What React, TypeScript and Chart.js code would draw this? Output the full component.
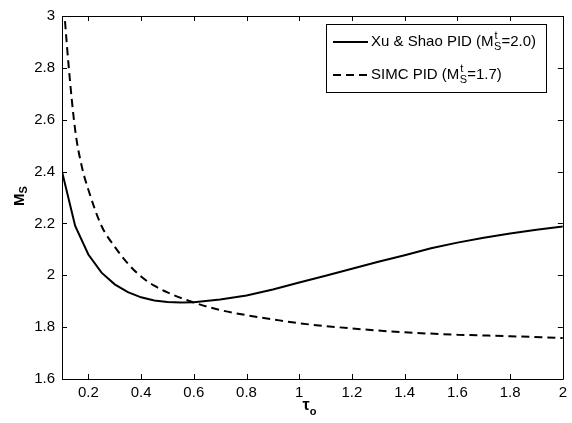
import React, { useEffect, useRef } from 'react';
import { Chart, registerables } from 'chart.js';

Chart.register(...registerables);

// ---- data ----
const tauXu = [0.1, 0.15, 0.2, 0.25, 0.3, 0.35, 0.4, 0.45, 0.5, 0.55, 0.6, 0.7, 0.8, 0.9, 1.0, 1.1, 1.2, 1.3, 1.4, 1.5, 1.6, 1.7, 1.8, 1.9, 2.0];
const msXu = [2.40, 2.19, 2.08, 2.01, 1.965, 1.935, 1.915, 1.903, 1.897, 1.895, 1.896, 1.907, 1.922, 1.945, 1.972, 1.998, 2.025, 2.052, 2.077, 2.104, 2.126, 2.145, 2.161, 2.176, 2.188];
const tauSimc = [0.1, 0.125, 0.15, 0.175, 0.2, 0.25, 0.3, 0.35, 0.4, 0.45, 0.5, 0.6, 0.7, 0.8, 0.9, 1.0, 1.2, 1.4, 1.6, 1.8, 2.0];
const msSimc = [3.13, 2.81, 2.56, 2.42, 2.33, 2.19, 2.11, 2.045, 1.995, 1.96, 1.934, 1.895, 1.866, 1.846, 1.83, 1.815, 1.795, 1.78, 1.771, 1.765, 1.758];
const xTicks = [0.2, 0.4, 0.6, 0.8, 1.0, 1.2, 1.4, 1.6, 1.8, 2.0];
const yTicks = [1.6, 1.8, 2.0, 2.2, 2.4, 2.6, 2.8, 3.0];
const seriesNames = ['Xu & Shao PID', 'SIMC PID'];
const seriesTargets = ['2.0', '1.7'];

const FONT = '"Liberation Sans", Arial, Helvetica, sans-serif';
const FS = 15;

const fmt = (v: number) => String(Number(v.toFixed(1)));

const decorPlugin = {
  id: 'matlabDecor',
  afterDraw(chart: any) {
    const ctx: CanvasRenderingContext2D = chart.ctx;
    const { left, right, top, bottom } = chart.chartArea;
    const xs = chart.scales.x;
    const ys = chart.scales.y;
    ctx.save();
    ctx.strokeStyle = '#000';
    ctx.lineWidth = 1;
    // frame
    ctx.beginPath();
    ctx.rect(Math.round(left) + 0.5, Math.round(top) + 0.5, Math.round(right - left), Math.round(bottom - top));
    ctx.stroke();
    // inward ticks
    const tl = 5;
    ctx.beginPath();
    xTicks.forEach((v) => {
      const px = Math.round(xs.getPixelForValue(v)) + 0.5;
      ctx.moveTo(px, bottom);
      ctx.lineTo(px, bottom - tl);
      ctx.moveTo(px, top);
      ctx.lineTo(px, top + tl);
    });
    yTicks.forEach((v) => {
      const py = Math.round(ys.getPixelForValue(v)) + 0.5;
      ctx.moveTo(left, py);
      ctx.lineTo(left + tl, py);
      ctx.moveTo(right, py);
      ctx.lineTo(right - tl, py);
    });
    ctx.stroke();

    ctx.fillStyle = '#000';
    // x title: tau_o
    ctx.textBaseline = 'alphabetic';
    ctx.textAlign = 'left';
    ctx.font = `bold 16px ${FONT}`;
    const tw = ctx.measureText('τ').width;
    ctx.font = `bold 11px ${FONT}`;
    const ow = ctx.measureText('o').width;
    const cx = (left + right) / 2 - 3;
    const x0 = cx - (tw + ow) / 2;
    ctx.font = `bold 16px ${FONT}`;
    ctx.fillText('τ', x0, 410);
    ctx.font = `bold 11px ${FONT}`;
    ctx.fillText('o', x0 + tw, 415);

    // y title: M_S rotated
    ctx.save();
    ctx.translate(24, 196);
    ctx.rotate(-Math.PI / 2);
    ctx.font = `bold 15px ${FONT}`;
    const mw = ctx.measureText('M').width;
    ctx.font = `bold 11px ${FONT}`;
    const sw = ctx.measureText('S').width;
    const y0 = -(mw + sw) / 2;
    ctx.font = `bold 15px ${FONT}`;
    ctx.fillText('M', y0, 0);
    ctx.font = `bold 11px ${FONT}`;
    ctx.fillText('S', y0 + mw, 3);
    ctx.restore();

    // legend
    const bx = 326.5, by = 24.5, bw = 220, bh = 68;
    ctx.fillStyle = '#fff';
    ctx.fillRect(bx, by, bw, bh);
    ctx.strokeStyle = '#000';
    ctx.lineWidth = 1;
    ctx.setLineDash([]);
    ctx.strokeRect(bx, by, bw, bh);
    const rows = [42, 75];
    const dashes = [[], [8, 5]];
    rows.forEach((ry, i) => {
      ctx.beginPath();
      ctx.lineWidth = 2;
      ctx.setLineDash(dashes[i]);
      ctx.moveTo(333, ry);
      ctx.lineTo(368, ry);
      ctx.stroke();
      ctx.setLineDash([]);
      ctx.fillStyle = '#000';
      ctx.textBaseline = 'middle';
      ctx.font = `${FS}px ${FONT}`;
      let tx = 371;
      const pre = `${seriesNames[i]} (M`;
      ctx.fillText(pre, tx, ry);
      tx += ctx.measureText(pre).width + 0.5;
      ctx.font = `11px ${FONT}`;
      ctx.fillText('t', tx + 0.5, ry - 6);
      ctx.fillText('S', tx, ry + 5);
      tx += ctx.measureText('S').width;
      ctx.font = `${FS}px ${FONT}`;
      ctx.fillText(`=${seriesTargets[i]})`, tx, ry);
    });
    ctx.restore();
  },
};

export default function App() {
  const ref = useRef<HTMLCanvasElement | null>(null);
  useEffect(() => {
    if (!ref.current) return;
    const chart = new Chart(ref.current, {
      type: 'line',
      data: {
        datasets: [
          {
            label: seriesNames[0],
            data: tauXu.map((t, i) => ({ x: t, y: msXu[i] })),
            borderColor: '#000',
            borderWidth: 2,
            pointRadius: 0,
            tension: 0,
            fill: false,
          },
          {
            label: seriesNames[1],
            data: tauSimc.map((t, i) => ({ x: t, y: msSimc[i] })),
            borderColor: '#000',
            borderWidth: 2,
            borderDash: [8, 5],
            pointRadius: 0,
            cubicInterpolationMode: 'monotone',
            fill: false,
          },
        ],
      },
      options: {
        responsive: false,
        animation: false,
        events: [],
        layout: { padding: { top: 11, right: 4, left: 0, bottom: 0 } },
        plugins: { legend: { display: false }, tooltip: { enabled: false } },
        scales: {
          x: {
            type: 'linear',
            min: 0.1,
            max: 2,
            grid: { display: false, drawTicks: false },
            border: { display: false },
            afterBuildTicks: (s: any) => {
              s.ticks = xTicks.map((v) => ({ value: v }));
            },
            afterFit: (s: any) => {
              s.height = 44;
            },
            ticks: {
              color: '#000',
              padding: 5,
              maxRotation: 0,
              autoSkip: false,
              font: { family: FONT, size: FS },
              callback: (v: any) => fmt(Number(v)),
            },
          },
          y: {
            type: 'linear',
            min: 1.6,
            max: 3,
            grid: { display: false, drawTicks: false },
            border: { display: false },
            afterBuildTicks: (s: any) => {
              s.ticks = yTicks.map((v) => ({ value: v }));
            },
            afterFit: (s: any) => {
              s.width = 62;
            },
            ticks: {
              color: '#000',
              padding: 7,
              autoSkip: false,
              font: { family: FONT, size: FS },
              callback: (v: any) => fmt(Number(v)),
            },
          },
        },
      } as any,
      plugins: [decorPlugin],
    });
    return () => chart.destroy();
  }, []);
  return (
    <div style={{ position: 'fixed', left: 0, top: 0, width: 572, height: 423, background: '#fff' }}>
      <canvas ref={ref} width={572} height={423} />
    </div>
  );
}
